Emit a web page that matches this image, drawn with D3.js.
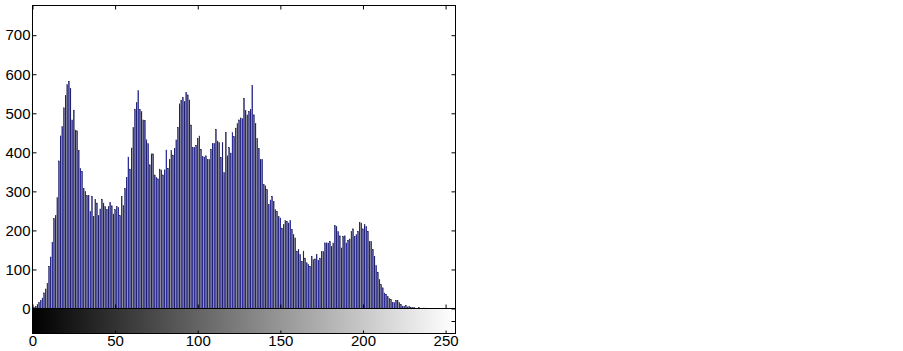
<!DOCTYPE html>
<html>
<head>
<meta charset="UTF-8">
<title>Histogram</title>
<script src="https://d3js.org/d3.v7.min.js"></script>
<style>
	body { margin: 0; background: #fff; }
	text { font-family: "Liberation Sans", Arial, sans-serif; font-size: 15px; fill: #000; }
</style>
</head>
<body>
<svg id="chart" width="903" height="351"></svg>
<script type="text/javascript">
	// grey levels 0..255 and their pixel counts
	var levels = d3.range(0, 256);
	var counts = [
		1, 3, 5, 10, 15, 20, 27, 40, 50, 65,
		108, 132, 170, 230, 238, 284, 378, 442, 466, 514,
		546, 573, 582, 564, 483, 508, 457, 455, 405, 359,
		351, 308, 300, 289, 290, 249, 287, 236, 280, 270,
		238, 255, 280, 270, 261, 253, 261, 272, 263, 242,
		253, 261, 259, 238, 287, 264, 307, 336, 388, 357,
		411, 464, 510, 527, 558, 510, 504, 483, 481, 432,
		422, 368, 396, 396, 342, 336, 332, 357, 355, 342,
		355, 406, 359, 382, 405, 393, 410, 432, 464, 524,
		534, 540, 530, 554, 547, 534, 470, 413, 413, 418,
		436, 442, 408, 389, 388, 391, 382, 382, 408, 423,
		423, 459, 429, 425, 387, 425, 348, 451, 391, 412,
		398, 451, 440, 462, 474, 483, 488, 486, 538, 507,
		496, 504, 510, 572, 496, 474, 436, 410, 382, 382,
		317, 314, 304, 266, 278, 287, 274, 253, 249, 236,
		232, 206, 215, 225, 223, 219, 226, 202, 189, 181,
		147, 151, 138, 121, 147, 129, 117, 113, 108, 134,
		125, 127, 138, 124, 129, 146, 146, 168, 168, 168,
		172, 159, 168, 212, 210, 197, 186, 155, 185, 186,
		168, 175, 178, 198, 204, 185, 189, 198, 221, 219,
		204, 215, 210, 198, 172, 172, 151, 134, 110, 93,
		74, 61, 53, 40, 36, 30, 26, 23, 16, 15,
		21, 21, 15, 10, 6, 6, 8, 4, 6, 3,
		2, 3, 1, 0, 2, 0, 0, 1, 1, 0,
		0, 0, 0, 0, 0, 0, 0, 0, 0, 0,
		0, 0, 0, 0, 0, 0
	];
	var yTicks = [0, 100, 200, 300, 400, 500, 600, 700];
	var xTicks = [0, 50, 100, 150, 200, 250];

	var plotLeft = 32.5, plotRight = 455.5, plotTop = 5.5, histBottom = 308.5, cbBottom = 333.5;

	var svg = d3.select('#chart');

	var x = d3.scaleLinear().domain([0, 256]).range([plotLeft, plotRight]);
	var y = d3.scaleLinear().domain([0, 776]).range([histBottom, plotTop]);
	var yc = d3.scaleLinear().domain([0, 1]).range([cbBottom, histBottom]);

	//柱
	svg.append('g').selectAll('rect.bar')
		.data(levels)
		.enter()
		.append('rect')
		.attr('class', 'bar')
		.attr('x', function(d) { return x(d) - 0.35; })
		.attr('width', 0.7)
		.attr('y', function(d) { return y(counts[d]); })
		.attr('height', function(d) { return histBottom - y(counts[d]); })
		.attr('fill', '#0000ff')
		.attr('stroke', '#000')
		.attr('stroke-width', 0.4);

	//灰度条
	var grad = svg.append('defs').append('linearGradient')
		.attr('id', 'grey')
		.attr('gradientUnits', 'userSpaceOnUse')
		.attr('x1', x(0)).attr('x2', x(255))
		.attr('y1', 0).attr('y2', 0);
	grad.append('stop').attr('offset', 0).attr('stop-color', '#000');
	grad.append('stop').attr('offset', 1).attr('stop-color', '#fff');

	svg.append('rect')
		.attr('x', plotLeft).attr('y', histBottom)
		.attr('width', plotRight - plotLeft).attr('height', cbBottom - histBottom)
		.attr('fill', 'url(#grey)');

	//坐标轴
	function noDomain(g) { g.select('.domain').remove(); }

	svg.append('g').attr('transform', 'translate(' + plotLeft + ',0)')
		.call(d3.axisLeft(y).tickValues(yTicks).tickSize(-4).tickPadding(2))
		.call(noDomain);
	svg.append('g').attr('transform', 'translate(' + plotRight + ',0)')
		.call(d3.axisRight(y).tickValues(yTicks).tickSize(-4).tickFormat(''))
		.call(noDomain);
	svg.append('g').attr('transform', 'translate(0,' + plotTop + ')')
		.call(d3.axisTop(x).tickValues(xTicks).tickSize(-4).tickFormat(''))
		.call(noDomain);
	svg.append('g').attr('transform', 'translate(0,' + histBottom + ')')
		.call(d3.axisBottom(x).tickValues(xTicks).tickSize(-4).tickFormat(''))
		.call(noDomain);
	svg.append('g').attr('transform', 'translate(0,' + cbBottom + ')')
		.call(d3.axisBottom(x).tickValues(xTicks).tickSize(-3).tickPadding(2))
		.call(noDomain);
	svg.append('g').attr('transform', 'translate(' + plotRight + ',0)')
		.call(d3.axisRight(yc).tickValues([0.5]).tickSize(-4).tickFormat(''))
		.call(noDomain);

	svg.selectAll('.tick line').attr('stroke', '#000');
	svg.selectAll('.tick text').style('font-size', '15px').style('font-family', '"Liberation Sans", Arial, sans-serif');

	//边框
	svg.append('rect')
		.attr('x', plotLeft).attr('y', plotTop)
		.attr('width', plotRight - plotLeft).attr('height', histBottom - plotTop)
		.attr('fill', 'none').attr('stroke', '#000');
	svg.append('rect')
		.attr('x', plotLeft).attr('y', histBottom)
		.attr('width', plotRight - plotLeft).attr('height', cbBottom - histBottom)
		.attr('fill', 'none').attr('stroke', '#000');
</script>
</body>
</html>
